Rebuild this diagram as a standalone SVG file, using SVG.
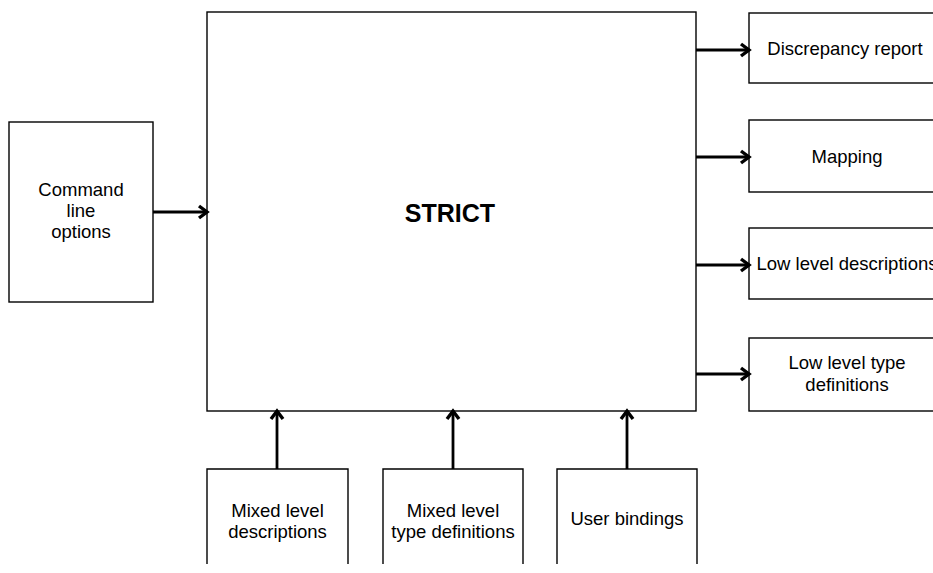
<svg xmlns="http://www.w3.org/2000/svg" width="933" height="573" viewBox="0 0 933 573">
  <defs>
    <marker id="head" markerUnits="userSpaceOnUse" markerWidth="14" markerHeight="16" refX="11" refY="7" orient="auto" overflow="visible">
      <path d="M3,1 L11,7 L3,13" fill="none" stroke="#000" stroke-width="3.4" stroke-linejoin="miter"/>
    </marker>
    <style>
      .box { fill: #fff; stroke: #000; stroke-width: 1.4; }
      .edge { fill: none; stroke: #000; stroke-width: 2.8; marker-end: url(#head); }
      text { font-family: "Liberation Sans", Arial, sans-serif; font-size: 18.5px; fill: #000; text-anchor: middle; }
      .title { font-size: 25px; font-weight: bold; }
    </style>
  </defs>
  <rect width="933" height="573" fill="#fff"/>

  <g id="strict">
    <rect class="box" x="207" y="12" width="489" height="399"/>
    <text class="title" x="450" y="222">STRICT</text>
  </g>

  <g id="command-line-options">
    <rect class="box" x="9" y="122" width="144" height="180"/>
    <text x="81" y="196">Command</text>
    <text x="81" y="217">line</text>
    <text x="81" y="238">options</text>
  </g>

  <g id="discrepancy-report">
    <rect class="box" x="749" y="13" width="200" height="70"/>
    <text x="845" y="55">Discrepancy report</text>
  </g>

  <g id="mapping">
    <rect class="box" x="749" y="120" width="200" height="72"/>
    <text x="847" y="163">Mapping</text>
  </g>

  <g id="low-level-descriptions">
    <rect class="box" x="749" y="228" width="200" height="71"/>
    <text x="847" y="270">Low level descriptions</text>
  </g>

  <g id="low-level-type-definitions">
    <rect class="box" x="749" y="338" width="200" height="73"/>
    <text x="847" y="369">Low level type</text>
    <text x="847" y="391">definitions</text>
  </g>

  <g id="mixed-level-descriptions">
    <path class="box" d="M207,564 V469 H348 V564"/>
    <text x="277.5" y="517">Mixed level</text>
    <text x="277.5" y="538">descriptions</text>
  </g>

  <g id="mixed-level-type-definitions">
    <path class="box" d="M383,564 V469 H523 V564"/>
    <text x="453" y="517">Mixed level</text>
    <text x="453" y="538">type definitions</text>
  </g>

  <g id="user-bindings">
    <path class="box" d="M557,564 V469 H697 V564"/>
    <text x="627" y="525">User bindings</text>
  </g>

  <g id="connectors">
    <line class="edge" x1="153" y1="212" x2="207" y2="212"/>
    <line class="edge" x1="696" y1="50" x2="749" y2="50"/>
    <line class="edge" x1="696" y1="157" x2="749" y2="157"/>
    <line class="edge" x1="696" y1="265" x2="749" y2="265"/>
    <line class="edge" x1="696" y1="374" x2="749" y2="374"/>
    <line class="edge" x1="277" y1="469" x2="277" y2="411"/>
    <line class="edge" x1="453" y1="469" x2="453" y2="411"/>
    <line class="edge" x1="627" y1="469" x2="627" y2="411"/>
  </g>
</svg>
